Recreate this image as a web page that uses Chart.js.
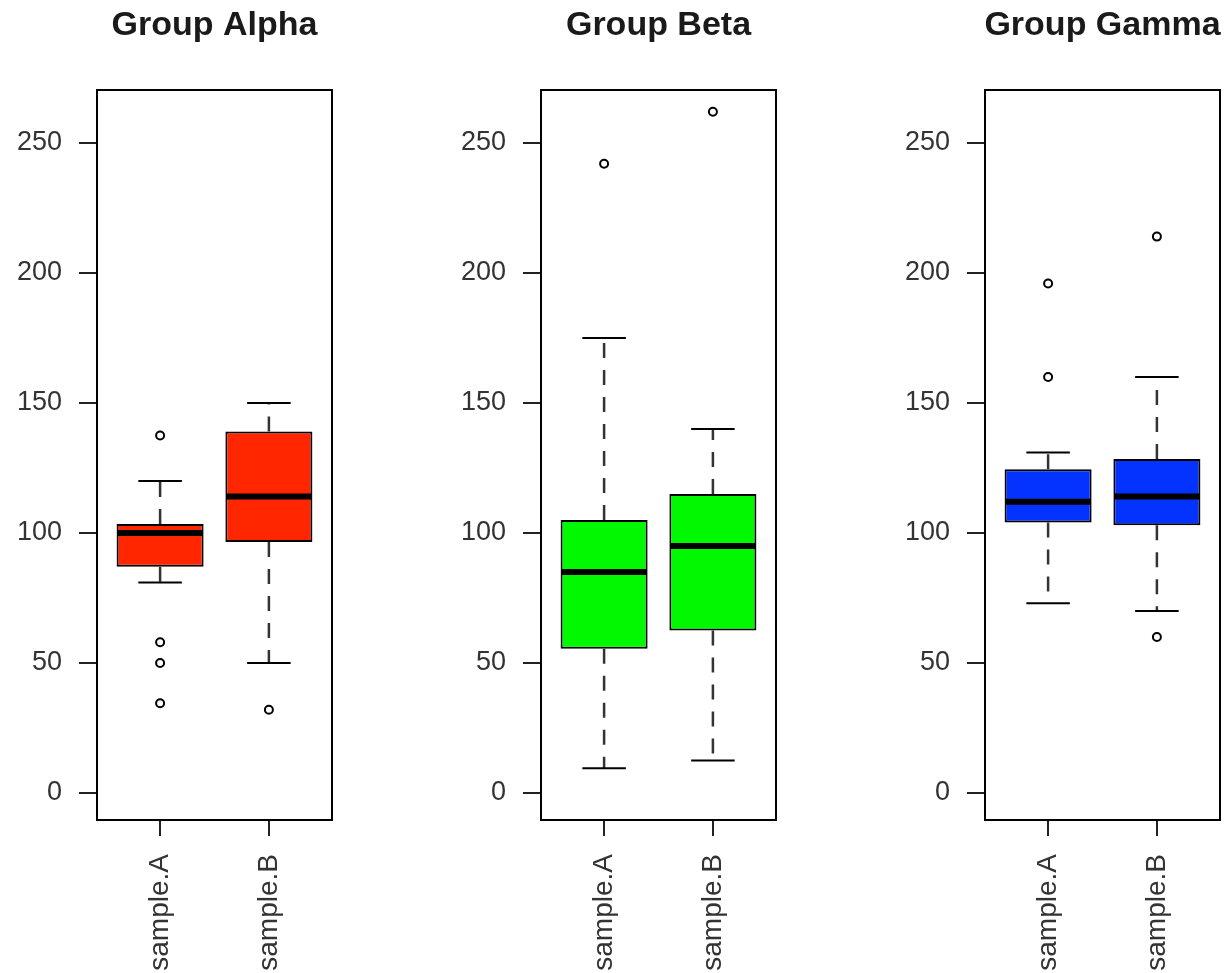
<!DOCTYPE html>
<html lang="en">
<head>
  <meta charset="UTF-8" />
  <title>Group boxplots</title>
  <script src="https://cdn.jsdelivr.net/npm/chart.js"></script>
  <style>
    html, body {
      margin: 0;
      padding: 0;
      background: #fff;
      overflow: hidden;
    }
    body {
      width: 1225px;
      height: 973px;
      position: relative;
    }
    canvas {
      position: absolute;
      top: 0;
    }
  </style>
</head>
<body>
  <canvas id="panel0" width="429" height="973" style="left:0px"></canvas>
  <canvas id="panel1" width="429" height="973" style="left:444px"></canvas>
  <canvas id="panel2" width="429" height="973" style="left:888px"></canvas>

  <script>
    const samples = ["sample.A", "sample.B"];
    const groupTitles = ["Group Alpha", "Group Beta", "Group Gamma"];
    const yTicks = [0, 50, 100, 150, 200, 250];
    const yLimits = [0, 260];

    // one row per group, each row is [sample.A, sample.B]
    const whiskerLow   = [[81, 50],     [9.5, 12.5],  [73, 70]];
    const quartileLow  = [[87, 96.5],   [55.5, 62.5], [104, 103]];
    const medians      = [[100, 114],   [85, 95],     [112, 114]];
    const quartileHigh = [[103.5, 139], [105, 115],   [124.5, 128.5]];
    const whiskerHigh  = [[120, 150],   [175, 140],   [131, 160]];
    const outliers = [
      [[137.5, 58, 50, 34.5], [32]],
      [[242], [262]],
      [[196, 160], [214, 60]]
    ];

    const boxColors = ["#ff2600", "#00f900", "#0433ff"];
    const fontFamily = "'Liberation Sans', Arial, Helvetica, sans-serif";

    // R pads the axis range by 4% on each side
    function padded(lo, hi) {
      const d = (hi - lo) * 0.04;
      return [lo - d, hi + d];
    }
    const yRange = padded(yLimits[0], yLimits[1]);
    const xRange = padded(0.5, samples.length + 0.5);

    // whiskers, staples, medians and the frame round the plot
    const boxplotLines = {
      id: "boxplotLines",
      afterDatasetsDraw(chart, args, opts) {
        const g = opts.group;
        const x = chart.scales.x;
        const y = chart.scales.y;
        const boxes = chart.getDatasetMeta(0).data;
        const ctx = chart.ctx;
        ctx.save();
        samples.forEach((s, i) => {
          const cx = x.getPixelForValue(i + 1);
          const half = boxes[i].width / 2;

          ctx.strokeStyle = "#333";
          ctx.lineWidth = 2.5;
          ctx.setLineDash([15, 12]);
          ctx.beginPath();
          ctx.moveTo(cx, y.getPixelForValue(quartileHigh[g][i]));
          ctx.lineTo(cx, y.getPixelForValue(whiskerHigh[g][i]));
          ctx.moveTo(cx, y.getPixelForValue(quartileLow[g][i]));
          ctx.lineTo(cx, y.getPixelForValue(whiskerLow[g][i]));
          ctx.stroke();

          ctx.strokeStyle = "#000";
          ctx.lineWidth = 2;
          ctx.setLineDash([]);
          ctx.beginPath();
          [whiskerHigh, whiskerLow].forEach(w => {
            const py = y.getPixelForValue(w[g][i]);
            ctx.moveTo(cx - half / 2, py);
            ctx.lineTo(cx + half / 2, py);
          });
          ctx.stroke();

          ctx.lineWidth = 6;
          ctx.beginPath();
          const my = y.getPixelForValue(medians[g][i]);
          ctx.moveTo(cx - half + 1, my);
          ctx.lineTo(cx + half - 1, my);
          ctx.stroke();
        });
        ctx.restore();
      },
      afterDraw(chart) {
        const a = chart.chartArea;
        const ctx = chart.ctx;
        ctx.save();
        ctx.strokeStyle = "#000";
        ctx.lineWidth = 2;
        ctx.strokeRect(a.left, a.top, a.right - a.left, a.bottom - a.top);
        ctx.restore();
      }
    };

    groupTitles.forEach((title, g) => {
      const boxData = samples.map((s, i) => ({ x: i + 1, y: [quartileLow[g][i], quartileHigh[g][i]] }));
      const outlierData = [];
      samples.forEach((s, i) => {
        outliers[g][i].forEach(v => outlierData.push({ x: i + 1, y: v }));
      });

      new Chart(document.getElementById("panel" + g), {
        type: "bar",
        data: {
          datasets: [
            {
              type: "bar",
              data: boxData,
              backgroundColor: boxColors[g],
              borderColor: "#000",
              borderWidth: 2,
              borderSkipped: false,
              barPercentage: 0.8,
              categoryPercentage: 1
            },
            {
              type: "scatter",
              data: outlierData,
              pointStyle: "circle",
              pointRadius: 4,
              pointBorderWidth: 2,
              pointBorderColor: "#000",
              pointBackgroundColor: "#fff"
            }
          ]
        },
        options: {
          responsive: false,
          animation: false,
          events: [],
          layout: { padding: 0 },
          plugins: {
            legend: { display: false },
            tooltip: { enabled: false },
            title: {
              display: true,
              text: title,
              color: "#1a1a1a",
              font: { family: fontFamily, size: 34, weight: "bold", lineHeight: 1 },
              padding: { top: 9, bottom: 47 }
            },
            boxplotLines: { group: g }
          },
          scales: {
            x: {
              type: "linear",
              offset: false,
              min: xRange[0],
              max: xRange[1],
              afterBuildTicks: s => { s.ticks = samples.map((n, i) => ({ value: i + 1 })); },
              afterFit: s => { s.height = 153; },
              border: { display: false },
              grid: { offset: false, drawOnChartArea: false, tickLength: 16, color: "#222", lineWidth: 2 },
              ticks: {
                autoSkip: false,
                minRotation: 90,
                maxRotation: 90,
                padding: 18,
                color: "#333",
                font: { family: fontFamily, size: 28, lineHeight: 0 },
                callback: v => samples[v - 1]
              }
            },
            y: {
              min: yRange[0],
              max: yRange[1],
              afterBuildTicks: s => { s.ticks = yTicks.map(v => ({ value: v })); },
              afterFit: s => { s.width = 97; },
              border: { display: false },
              grid: { drawOnChartArea: false, tickLength: 18, color: "#222", lineWidth: 2 },
              ticks: {
                autoSkip: false,
                padding: 17,
                color: "#333",
                font: { family: fontFamily, size: 27 }
              }
            },
            // empty right-hand margin so the title centres over the plot
            yMargin: {
              position: "right",
              afterFit: s => { s.width = 97; },
              border: { display: false },
              grid: { display: false },
              ticks: { display: false }
            }
          }
        },
        plugins: [boxplotLines]
      });
    });
  </script>
</body>
</html>
